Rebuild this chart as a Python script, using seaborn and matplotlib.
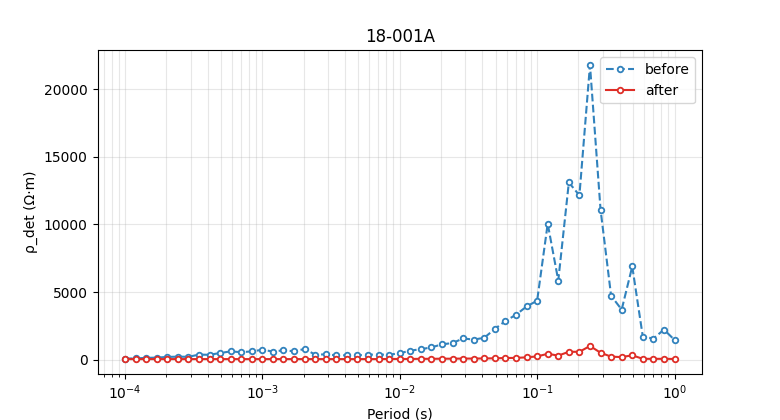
import seaborn as sns
import pandas as pd
import matplotlib
matplotlib.use("Agg")
import matplotlib.pyplot as plt

# periods (s), 13 per decade
period = [
    0.0001, 0.00011938, 0.00014251, 0.00017013, 0.00020309, 0.00024245, 0.00028943,
    0.00034551, 0.00041246, 0.00049239, 0.0005878, 0.0007017, 0.00083768,
    0.001, 0.0011938, 0.0014251, 0.0017013, 0.0020309, 0.0024245, 0.0028943,
    0.0034551, 0.0041246, 0.0049239, 0.005878, 0.007017, 0.0083768,
    0.01, 0.011938, 0.014251, 0.017013, 0.020309, 0.024245, 0.028943,
    0.034551, 0.041246, 0.049239, 0.05878, 0.07017, 0.083768,
    0.1, 0.11938, 0.14251, 0.17013, 0.20309, 0.24245, 0.28943,
    0.34551, 0.41246, 0.49239, 0.5878, 0.7017, 0.83768, 1.0,
]

before = [
    80, 90, 130, 150, 200, 220, 210, 370, 360, 490, 610, 550, 610,
    730, 600, 690, 620, 790, 370, 390, 320, 320, 320, 370, 370, 370,
    470, 670, 770, 910, 1130, 1230, 1570, 1480, 1620, 2270, 2860, 3320, 3930,
    4360, 10050, 5850, 13100, 12150, 21780, 11090, 4720, 3700, 6890, 1700, 1560, 2220, 1460,
]

after = [
    40, 40, 40, 40, 40, 40, 40, 40, 40, 40, 40, 40, 40,
    40, 40, 40, 40, 40, 40, 40, 40, 40, 40, 40, 40, 50,
    50, 50, 60, 60, 70, 70, 80, 80, 90, 100, 120, 130, 170,
    240, 430, 300, 580, 580, 1010, 510, 220, 190, 320, 60, 60, 60, 50,
]

df = pd.DataFrame({"period": period, "before": before, "after": after})

blue = "#3182bd"
red = "#de2d26"

fig, ax = plt.subplots(figsize=(7.8, 4.2), dpi=100)

sns.lineplot(data=df, x="period", y="before", ax=ax, label="before", color=blue,
             linestyle="--", linewidth=1.5, marker="o", markersize=4,
             markerfacecolor="white", markeredgecolor=blue, markeredgewidth=1.3)
sns.lineplot(data=df, x="period", y="after", ax=ax, label="after", color=red,
             linestyle="-", linewidth=1.5, marker="o", markersize=4,
             markerfacecolor="white", markeredgecolor=red, markeredgewidth=1.3)

ax.set_xscale("log")
ax.grid(True, which="both", alpha=0.3)
ax.set_title("18-001A")
ax.set_xlabel("Period (s)")
ax.set_ylabel("ρ_det (Ω·m)")
ax.legend(loc="upper right")

fig.savefig("out.png", dpi=100)
